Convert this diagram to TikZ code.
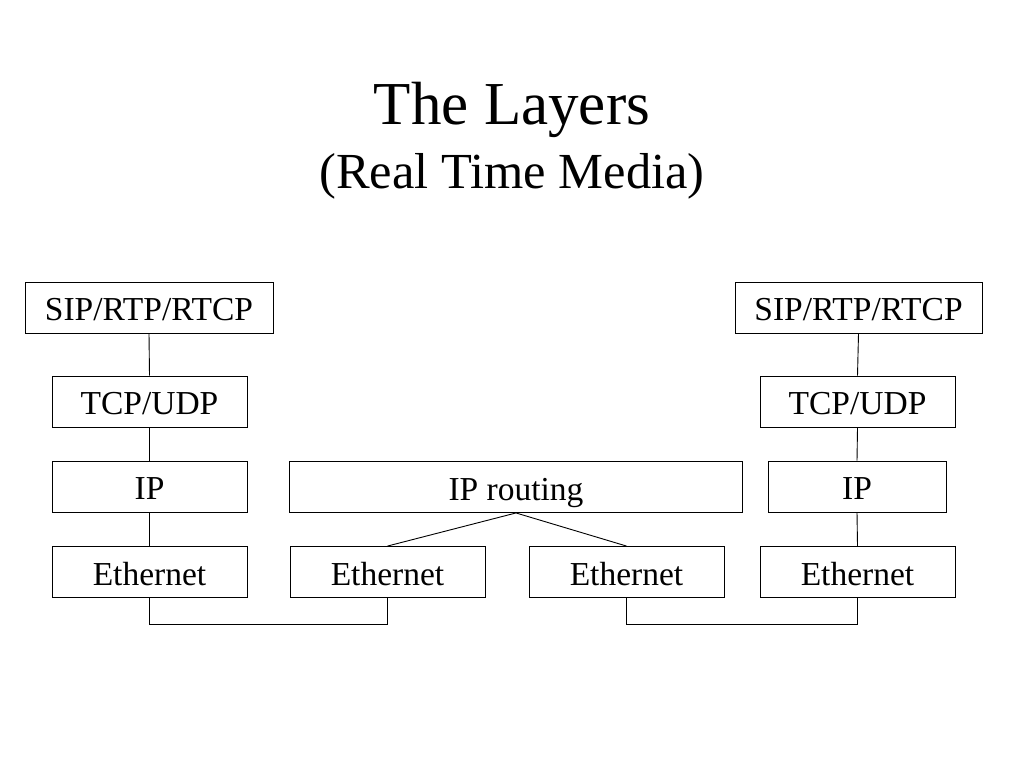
\documentclass[tikz,border=0pt]{standalone}
\usepackage{fontspec}
\setmainfont{Liberation Serif}

\begin{document}
\begin{tikzpicture}[x=1pt,y=-1pt]
  \useasboundingbox (0,0) rectangle (1024,768);
  \tikzstyle{every node}=[inner sep=0pt]
  \node[anchor=base,font=\fontsize{61}{61}\selectfont] (title)    at (512,124) {The Layers};
  \node[anchor=base,font=\fontsize{50.5}{50.5}\selectfont] (subtitle) at (512,188) {(Real Time Media)};

  \tikzstyle{layer}=[rectangle,draw,line width=0.9pt,minimum height=51pt,
                     text height=26pt,text depth=0pt,font=\fontsize{33.5}{33.5}\selectfont]
  \tikzstyle{wire}=[line width=0.9pt]

%% left host
  \node[layer,minimum width=248pt] (SIP-left) at (149,307.5) {SIP/RTP/RTCP};
  \node[layer,minimum width=195pt] (TCP-left) at (149.5,401.5) {TCP/UDP};
  \node[layer,minimum width=195pt] (IP-left)  at (149.5,486.5) {IP};
  \node[layer,minimum width=195pt] (Eth-a)    at (149.5,572) {Ethernet};

%% router
  \node[layer,minimum width=453pt] (IP-route) at (516,487) {IP routing};
  \node[layer,minimum width=195pt] (Eth-b)    at (387.5,572) {Ethernet};
  \node[layer,minimum width=195pt] (Eth-c)    at (626.5,572) {Ethernet};

%% right host
  \node[layer,minimum width=247pt] (SIP-right) at (858.5,307.5) {SIP/RTP/RTCP};
  \node[layer,minimum width=195pt] (TCP-right) at (857.5,401.5) {TCP/UDP};
  \node[layer,minimum width=178pt] (IP-right)  at (857,486.5) {IP};
  \node[layer,minimum width=195pt] (Eth-d)     at (857.5,572) {Ethernet};

%% draw connections
  \foreach \a/\b in {SIP-left/TCP-left, TCP-left/IP-left, IP-left/Eth-a,
                     SIP-right/TCP-right, TCP-right/IP-right, IP-right/Eth-d,
                     IP-route/Eth-b, IP-route/Eth-c}
    \draw[wire] (\a.south) -- (\b.north);
  \draw[wire] (Eth-a.south) -- ++(0,26) -| (Eth-b.south);
  \draw[wire] (Eth-c.south) -- ++(0,26) -| (Eth-d.south);
\end{tikzpicture}
\end{document}
